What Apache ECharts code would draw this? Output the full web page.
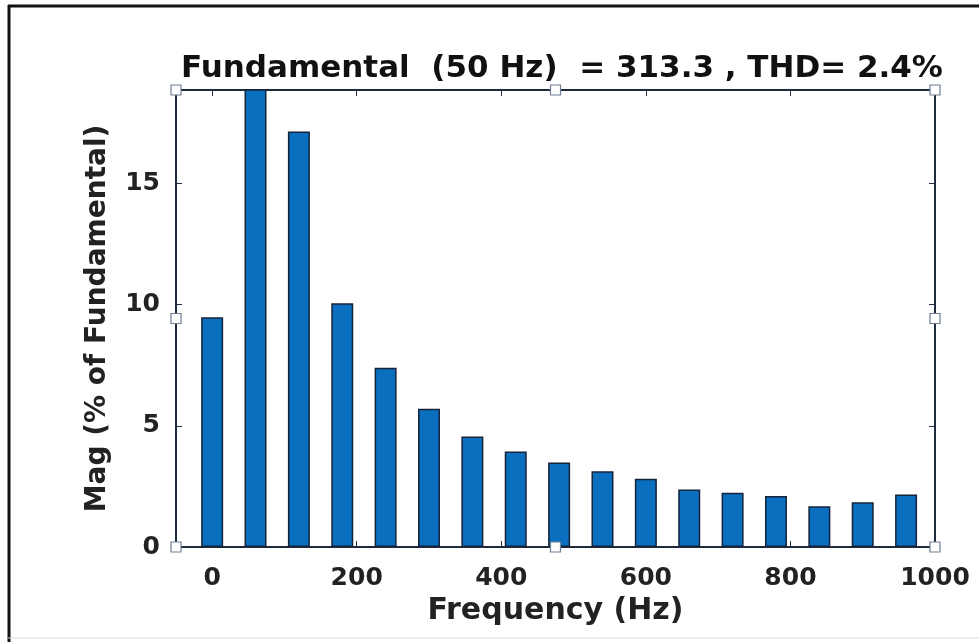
<!DOCTYPE html>
<html>
<head>
<meta charset="utf-8">
<script src="https://cdn.jsdelivr.net/npm/echarts@6/dist/echarts.min.js"></script>
<style>
  html, body { margin: 0; padding: 0; background: #fff; }
  #chart { width: 979px; height: 642px; }
</style>
</head>
<body>
<div id="chart"></div>
<script>
// harmonic spectrum
var freqs = [0, 60, 120, 180, 240, 300, 360, 420, 480, 540, 600, 660, 720, 780, 840, 900, 960]
var mags = [9.48, 20, 17.14, 10.05, 7.39, 5.70, 4.56, 3.94, 3.49, 3.12, 2.82, 2.37, 2.24, 2.10, 1.68, 1.85, 2.17]
var xTicks = [0, 200, 400, 600, 800, 1000]
var yTicks = [0, 5, 10, 15]

var titleText = 'Fundamental  (50 Hz)  = 313.3 , THD= 2.4%'

var G = { left: 176, top: 90, right: 935, bottom: 547 }
var axisColor = '#1e2b3c'
var font = 'DejaVu Sans'

function handle (x, y) {
  return {
    type: 'rect',
    shape: { x: x - 5, y: y - 5, width: 10, height: 10 },
    style: { fill: '#fff', stroke: '#6f7f95', lineWidth: 1.2 },
    z: 100
  }
}

function boxLine () {
  return { show: true, onZero: false, lineStyle: { color: axisColor, width: 2 } }
}

var chart = echarts.init(document.getElementById('chart'))
var option = {
  animation: false,
  backgroundColor: '#fff',
  title: {
    text: titleText,
    left: 557,
    top: 48,
    textAlign: 'center',
    textStyle: { fontFamily: font, fontWeight: 'bold', fontSize: 31, color: '#111' }
  },
  grid: { left: G.left, top: G.top, width: G.right - G.left, height: G.bottom - G.top },
  xAxis: [{
    type: 'value',
    min: -50,
    max: 1000,
    name: 'Frequency (Hz)',
    nameLocation: 'middle',
    nameGap: 43,
    nameTextStyle: { fontFamily: font, fontWeight: 'bold', fontSize: 30, color: '#222' },
    axisLine: boxLine(),
    axisTick: { show: true, inside: true, length: 6, customValues: xTicks, lineStyle: { color: axisColor } },
    axisLabel: {
      customValues: xTicks, fontFamily: font, fontWeight: 'bold', fontSize: 25, color: '#222', margin: 19,
      formatter: function (v) { return String(v) }
    },
    splitLine: { show: false }
  }, {
    type: 'value',
    position: 'top',
    min: -50,
    max: 1000,
    axisLine: boxLine(),
    axisTick: { show: true, inside: true, length: 6, customValues: xTicks, lineStyle: { color: axisColor } },
    axisLabel: { show: false },
    splitLine: { show: false }
  }],
  yAxis: [{
    type: 'value',
    min: 0,
    max: 18.85,
    interval: 5,
    name: 'Mag (% of Fundamental)',
    nameLocation: 'middle',
    nameGap: 64,
    nameTextStyle: { fontFamily: font, fontWeight: 'bold', fontSize: 28, color: '#222' },
    axisLine: boxLine(),
    axisTick: { show: true, inside: true, length: 6, lineStyle: { color: axisColor } },
    axisLabel: {
      fontFamily: font, fontWeight: 'bold', fontSize: 25, color: '#222', margin: 16,
      formatter: function (v) { return yTicks.indexOf(v) >= 0 ? String(v) : '' }
    },
    splitLine: { show: false }
  }, {
    type: 'value',
    position: 'right',
    min: 0,
    max: 18.85,
    interval: 5,
    axisLine: boxLine(),
    axisTick: { show: true, inside: true, length: 6, lineStyle: { color: axisColor } },
    axisLabel: { show: false },
    splitLine: { show: false }
  }],
  series: [{
    type: 'bar',
    barWidth: 22,
    clip: true,
    data: freqs.map(function (f, i) { return [f, mags[i]] }),
    itemStyle: { color: '#0b6fbf', borderColor: '#14233a', borderWidth: 1.5 }
  }],
  graphic: [
    { type: 'line', shape: { x1: 8, y1: 6, x2: 979, y2: 6 }, style: { stroke: '#111', lineWidth: 3 } },
    { type: 'line', shape: { x1: 9, y1: 5, x2: 9, y2: 642 }, style: { stroke: '#111', lineWidth: 3 } },
    { type: 'line', shape: { x1: 8, y1: 638, x2: 979, y2: 638 }, style: { stroke: '#ddd', lineWidth: 1 } },
    handle(G.left, G.top), handle((G.left + G.right) / 2, G.top), handle(G.right, G.top),
    handle(G.left, (G.top + G.bottom) / 2), handle(G.right, (G.top + G.bottom) / 2),
    handle(G.left, G.bottom), handle((G.left + G.right) / 2, G.bottom), handle(G.right, G.bottom)
  ]
}
chart.setOption(option)
</script>
</body>
</html>
